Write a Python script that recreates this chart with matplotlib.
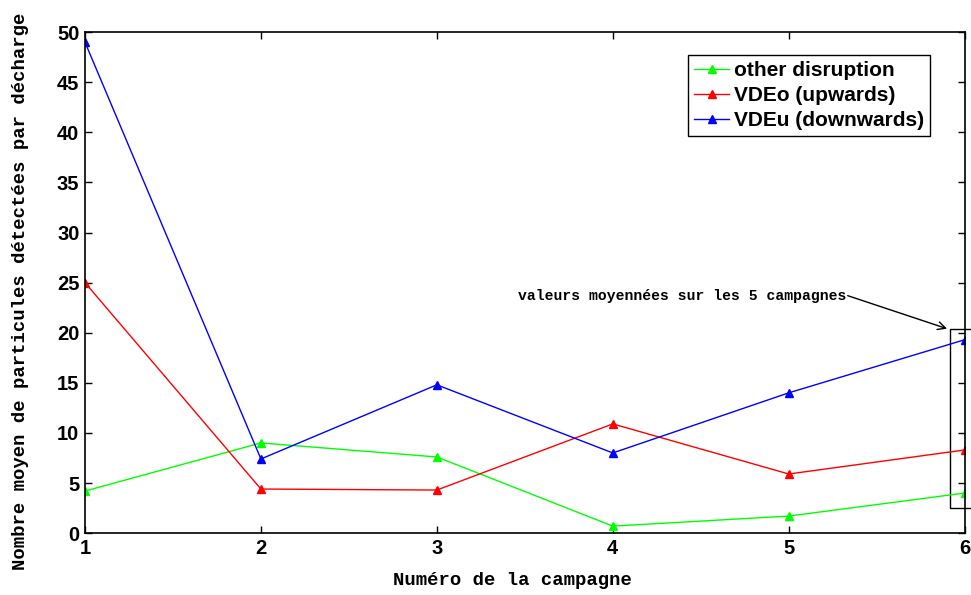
import numpy as np
import matplotlib.pyplot as plt
from matplotlib.patches import Rectangle

campagnes = [1, 2, 3, 4, 5, 6]
other_disruption = [4.2, 9.0, 7.6, 0.7, 1.7, 4.0]
vdeo_upwards = [25.0, 4.4, 4.3, 10.9, 5.9, 8.3]
vdeu_downwards = [49.0, 7.4, 14.8, 8.0, 14.0, 19.3]
labels = ['other disruption', 'VDEo (upwards)', 'VDEu (downwards)']

fig = plt.figure(figsize=(9.71, 5.95), dpi=100)
ax = fig.add_axes([0.0875, 0.104, 0.906, 0.842])

ax.plot(campagnes, other_disruption, '-^', color=(0, 1, 0), lw=1, ms=6, label=labels[0])
ax.plot(campagnes, vdeo_upwards, '-^', color=(1, 0, 0), lw=1, ms=6, label=labels[1])
ax.plot(campagnes, vdeu_downwards, '-^', color=(0, 0, 1), lw=1, ms=6, label=labels[2])

ax.set_xlim(1, 6)
ax.set_ylim(0, 50)
ax.set_xticks(campagnes)
ax.set_yticks(np.arange(0, 51, 5))
ax.tick_params(direction='in', top=True, right=True, length=5, width=1,
               labelsize=14.5, pad=4)
for lab in ax.get_xticklabels() + ax.get_yticklabels():
    lab.set_fontweight('bold')
    lab.set_family('Liberation Sans')
for s in ax.spines.values():
    s.set_linewidth(1.2)

mono = {'family': 'Liberation Mono', 'weight': 'bold', 'size': 13.6}
ax.set_xlabel('Numéro de la campagne', fontdict=mono)
ax.set_ylabel('Nombre moyen de particules détectées par décharge', fontdict=mono)
ax.xaxis.set_label_coords(0.486, -0.077)
ax.yaxis.set_label_coords(-0.064, 0.482)

# box around the averaged values
rect = Rectangle((5.915, 2.5), 0.2, 17.9, fill=False, edgecolor='black', lw=1, clip_on=False)
ax.add_patch(rect)
ax.text(5.33, 23.7, 'valeurs moyennées sur les 5 campagnes', fontsize=10.6,
        family='Liberation Mono', weight='bold', ha='right', va='center')
ax.annotate('', xy=(5.9, 20.4), xytext=(5.335, 23.7),
            arrowprops=dict(arrowstyle='->', color='black', lw=1, shrinkA=0, shrinkB=0,
                            mutation_scale=14))

leg = ax.legend(loc='upper right', bbox_to_anchor=(0.961, 0.954),
                prop={'family': 'Liberation Sans', 'weight': 'bold', 'size': 15},
                fancybox=False, edgecolor='black', framealpha=1,
                handlelength=1.65, handletextpad=0.25, borderpad=0.3,
                labelspacing=0.28, borderaxespad=0)
leg.get_frame().set_linewidth(1)

fig.savefig('out.png', dpi=100)
